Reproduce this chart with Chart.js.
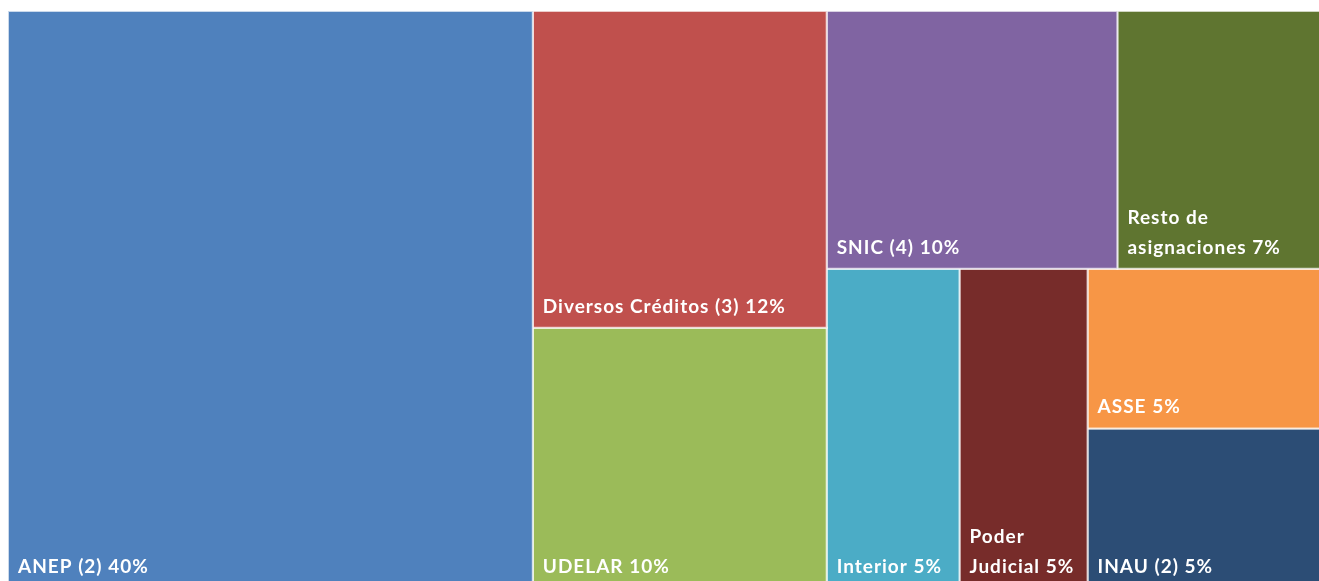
<!DOCTYPE html>
<html>
<head>
<meta charset="utf-8">
<script src="https://cdn.jsdelivr.net/npm/chart.js@4.4.1/dist/chart.umd.min.js"></script>
<style>
html,body{margin:0;padding:0;overflow:hidden;background:#ffffff;width:1319px;height:581px}
#wrap{position:absolute;left:0;top:0;width:1320px;height:590px}
</style>
</head>
<body>
<div id="wrap"><canvas id="c" width="1320" height="590"></canvas></div>
<script>
// ---- data ----
const categories = ['ANEP (2)', 'Diversos Créditos (3)', 'UDELAR', 'SNIC (4)', 'Resto de asignaciones', 'Interior', 'Poder Judicial', 'ASSE', 'INAU (2)'];
const shares = [40.0, 12.3, 10.1, 9.9, 6.9, 5.6, 5.4, 4.9, 4.9];
const shareLabels = ['40%', '12%', '10%', '10%', '7%', '5%', '5%', '5%', '5%'];
const colors = ['#4F81BD', '#C0504D', '#9BBB59', '#8064A2', '#5F7530', '#4BACC6', '#772C2A', '#F79646', '#2C4D75'];
// nesting of the treemap (indices into categories); 'h' = side by side, 'v' = stacked
const layoutTree = {split: 'h', items: [0,
  {split: 'v', items: [1, 2]},
  {split: 'v', items: [
    {split: 'h', items: [3, 4]},
    {split: 'h', items: [5, 6, {split: 'v', items: [7, 8]}]}
  ]}
]};

// ---- layout in normalized units (areas proportional to values) ----
function nodeSum(n) { return typeof n === 'number' ? shares[n] : n.items.reduce((s, c) => s + nodeSum(c), 0); }
const rects = [];
function layout(n, x0, y0, x1, y1) {
  if (typeof n === 'number') { rects[n] = {x0, y0, x1, y1}; return; }
  const total = nodeSum(n);
  let acc = 0;
  n.items.forEach(c => {
    const a = acc / total, b = (acc + nodeSum(c)) / total;
    if (n.split === 'h') layout(c, x0 + (x1 - x0) * a, y0, x0 + (x1 - x0) * b, y1);
    else layout(c, x0, y0 + (y1 - y0) * a, x1, y0 + (y1 - y0) * b);
    acc += nodeSum(c);
  });
}
layout(layoutTree, 0, 0, 1, 1);

const datasets = categories.map((name, i) => {
  const r = rects[i];
  return {
    label: name,
    data: [{x: r.x0, y: r.y0}, {x: r.x1, y: r.y0}, {x: r.x1, y: r.y1}, {x: r.x0, y: r.y1}, {x: r.x0, y: r.y0}],
    backgroundColor: colors[i],
    borderColor: 'rgba(255,255,255,0.7)',
    borderWidth: 2,
    fill: 'shape',
    pointRadius: 0,
    pointHoverRadius: 0,
    tension: 0
  };
});

const FONT = 'bold 19px Lato';
const labelPlugin = {
  id: 'cellLabels',
  afterDatasetsDraw(chart) {
    const ctx = chart.ctx, xs = chart.scales.x, ys = chart.scales.y;
    ctx.save();
    ctx.font = FONT;
    try { ctx.letterSpacing = '1px'; } catch (e) {}
    ctx.fillStyle = '#ffffff';
    ctx.textBaseline = 'alphabetic';
    ctx.textAlign = 'left';
    categories.forEach((name, i) => {
      const r = rects[i];
      const px0 = xs.getPixelForValue(r.x0), px1 = xs.getPixelForValue(r.x1);
      const py1 = ys.getPixelForValue(r.y1);
      const pad = 9, maxW = px1 - px0 - pad - 3;
      const words = (name + ' ' + shareLabels[i]).split(' ');
      const lines = [];
      let cur = '';
      words.forEach(w => {
        const t = cur ? cur + ' ' + w : w;
        if (cur && ctx.measureText(t).width > maxW) { lines.push(cur); cur = w; } else cur = t;
      });
      if (cur) lines.push(cur);
      const lh = 30;
      lines.forEach((ln, k) => {
        ctx.fillText(ln, px0 + pad + 1, py1 - 15 - (lines.length - 1 - k) * lh);
      });
    });
    ctx.restore();
  }
};

new Chart(document.getElementById('c'), {
  type: 'line',
  data: {datasets},
  options: {
    responsive: false,
    animation: false,
    devicePixelRatio: 1,
    layout: {padding: {left: 8, top: 11, right: 0, bottom: 2}},
    scales: {
      x: {type: 'linear', min: 0, max: 1, display: false},
      y: {type: 'linear', min: 0, max: 1, reverse: true, display: false}
    },
    plugins: {legend: {display: false}, tooltip: {enabled: false}}
  },
  plugins: [labelPlugin]
});
</script>
</body>
</html>
